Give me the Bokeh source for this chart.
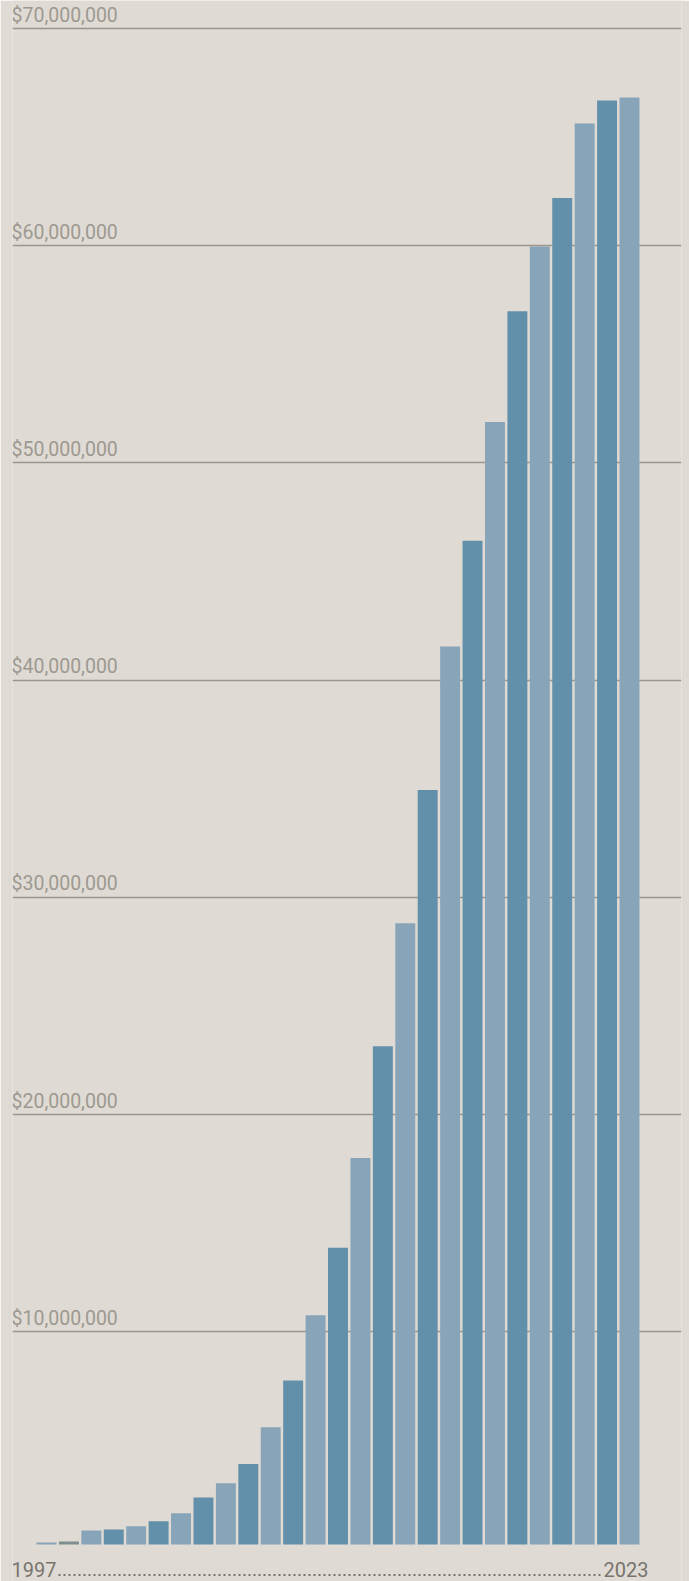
from bokeh.plotting import figure
from bokeh.models import Range1d, Grid, FixedTicker, ColumnDataSource
from bokeh.core.properties import value
from bokeh.embed import file_html
from bokeh.resources import INLINE

# ---------------- data ----------------
years = list(range(1997, 2024))
amounts = [
    90_000, 140_000, 640_000, 690_000, 840_000, 1_070_000, 1_440_000,
    2_160_000, 2_820_000, 3_700_000, 5_400_000, 7_550_000, 10_550_000,
    13_660_000, 17_790_000, 22_940_000, 28_600_000, 34_730_000, 41_340_000,
    46_200_000, 51_670_000, 56_770_000, 59_750_000, 61_980_000, 65_410_000,
    66_470_000, 66_610_000,
]
grid_values = [10_000_000, 20_000_000, 30_000_000, 40_000_000,
               50_000_000, 60_000_000, 70_000_000]
grid_labels = ["$10,000,000", "$20,000,000", "$30,000,000", "$40,000,000",
               "$50,000,000", "$60,000,000", "$70,000,000"]
first_label = "1997"
last_label = "2023"

# ---------------- style ----------------
BG = "#dfdbd4"
LIGHT = "#87a4b9"
DARK = "#628fa9"
GRAY = "#7f8e8f"
bar_colors = [LIGHT, GRAY] + [LIGHT if i % 2 == 0 else DARK for i in range(2, len(years))]
GRID_COLOR = "#9a968e"
YLABEL_COLOR = "#9d9991"
XLABEL_COLOR = "#78746c"
FONT = "Roboto"

W, H = 689, 1581
BORDER_L, BORDER_R = 12, 8
FRAME_W = W - BORDER_L - BORDER_R
PX_X = 22.423               # px per year
PX_Y = 21.724 / 1e6         # px per dollar
BAR_ZERO_PX = 1544          # bar baseline, px from frame top
GRID_ZERO_PX = 1548.5       # grid zero, px from frame top

x_start = years[0] - (46 - BORDER_L) / PX_X
x_end = x_start + FRAME_W / PX_X

bar_top = BAR_ZERO_PX / PX_Y
bar_bottom = -(H - BAR_ZERO_PX) / PX_Y
grid_top = GRID_ZERO_PX / PX_Y
grid_bottom = -(H - GRID_ZERO_PX) / PX_Y

p = figure(width=W, height=H, output_backend="svg", toolbar_location=None,
           x_range=Range1d(x_start, x_end), y_range=Range1d(bar_bottom, bar_top),
           min_border_left=BORDER_L, min_border_right=BORDER_R, min_border_top=0,
           min_border_bottom=0)
p.extra_y_ranges = {"grid": Range1d(grid_bottom, grid_top)}
p.axis.visible = False
p.xgrid.visible = False
p.ygrid.visible = False
p.outline_line_color = None
p.background_fill_color = BG
p.border_fill_color = BG

grid = Grid(dimension=1, ticker=FixedTicker(ticks=grid_values), y_range_name="grid",
            grid_line_color=GRID_COLOR, grid_line_width=1.3)
p.add_layout(grid, "center")

src = ColumnDataSource(dict(x=years, top=amounts, color=bar_colors))
p.vbar(x="x", top="top", bottom=0, width=0.89, color="color", source=src,
       line_color=None)

# tick labels sit above their gridline (cap centre ~13px above the line)
label_lift = 13.3 / PX_Y
lab_src = ColumnDataSource(dict(x=[x_start - 1 / PX_X] * len(grid_values),
                                y=[v + label_lift for v in grid_values],
                                text=grid_labels))
p.text(x="x", y="y", text="text", source=lab_src, y_range_name="grid",
       text_font=value(FONT), text_font_size="19.5px", text_color=YLABEL_COLOR,
       text_align="left", text_baseline="middle")

y_mid = -(1568.5 - BAR_ZERO_PX) / PX_Y
y_dots = -(1574.5 - BAR_ZERO_PX) / PX_Y
p.text(x=[x_start - 1 / PX_X], y=[y_mid], text=[first_label], text_font=value(FONT),
       text_font_size="20px", text_color=XLABEL_COLOR, text_align="left",
       text_baseline="middle")
p.text(x=[x_start + (648 - BORDER_L) / PX_X], y=[y_mid], text=[last_label],
       text_font=value(FONT), text_font_size="20px", text_color=XLABEL_COLOR,
       text_align="right", text_baseline="middle")
p.segment(x0=[x_start + (58 - BORDER_L) / PX_X], x1=[x_start + (600 - BORDER_L) / PX_X],
          y0=[y_dots], y1=[y_dots], line_color=XLABEL_COLOR, line_width=2,
          line_dash="2 3")

open("out.html", "w").write(file_html(p, INLINE))
